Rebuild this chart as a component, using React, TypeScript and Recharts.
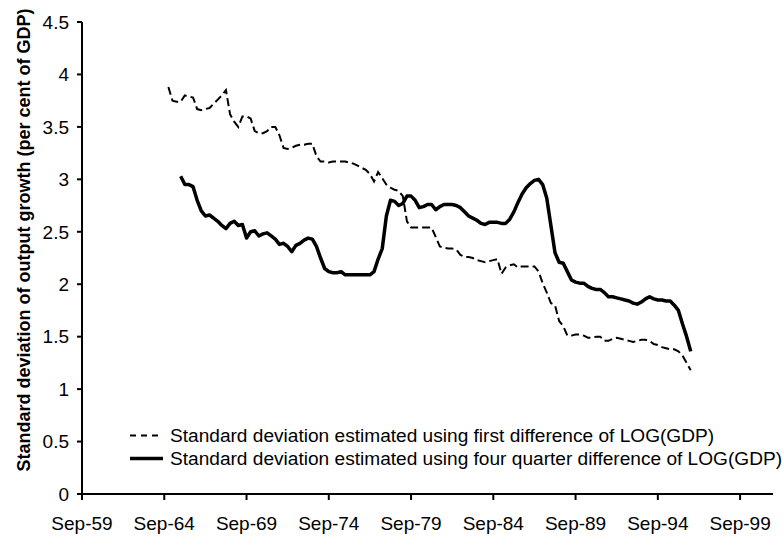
import { LineChart, Line, XAxis, YAxis, Legend } from "recharts";

const FONT = "'Liberation Sans', Arial, sans-serif";

// x axis: quarter index counted from Sep-59 (= 0), one tick every 5 years
const tickLabels = ["Sep-59", "Sep-64", "Sep-69", "Sep-74", "Sep-79", "Sep-84", "Sep-89", "Sep-94", "Sep-99"];
const xTicks = [0, 20, 40, 60, 80, 100, 120, 140, 160];
const yTicks = [0, 0.5, 1, 1.5, 2, 2.5, 3, 3.5, 4, 4.5];

const seriesNames = [
  "Standard deviation estimated using first difference of LOG(GDP)",
  "Standard deviation estimated using four quarter difference of LOG(GDP)",
];

// first difference series starts Dec-64 (index 21)
const firstStart = 21;
const firstDiff = [
  3.88, 3.75, 3.74, 3.74, 3.8, 3.79, 3.78, 3.67, 3.66, 3.67,
  3.68, 3.72, 3.76, 3.8, 3.85, 3.62, 3.55, 3.5, 3.6, 3.6,
  3.58, 3.46, 3.44, 3.44, 3.46, 3.5, 3.5, 3.42, 3.3, 3.29,
  3.3, 3.32, 3.33, 3.33, 3.34, 3.34, 3.22, 3.17, 3.17, 3.16,
  3.17, 3.17, 3.17, 3.17, 3.16, 3.15, 3.13, 3.11, 3.09, 3.05,
  2.98, 3.07, 3.01, 2.95, 2.92, 2.9, 2.89, 2.84, 2.6, 2.54,
  2.54, 2.54, 2.54, 2.54, 2.54, 2.45, 2.36, 2.35, 2.34, 2.34,
  2.33, 2.28, 2.26, 2.26, 2.25, 2.23, 2.22, 2.21, 2.22, 2.23,
  2.24, 2.1, 2.16, 2.18, 2.19, 2.16, 2.17, 2.17, 2.17, 2.17,
  2.12, 2.01, 1.92, 1.82, 1.8, 1.65, 1.6, 1.51, 1.51, 1.52,
  1.52, 1.51, 1.49, 1.49, 1.5, 1.5, 1.46, 1.46, 1.48, 1.49,
  1.48, 1.47, 1.46, 1.45, 1.46, 1.47, 1.47, 1.46, 1.43, 1.42,
  1.4, 1.39, 1.38, 1.38, 1.36, 1.32, 1.25, 1.18,
];

// four quarter difference series starts Sep-65 (index 24)
const fourStart = 24;
const fourQuarterDiff = [
  3.03, 2.95, 2.95, 2.93, 2.8, 2.7, 2.65,
  2.66, 2.63, 2.6, 2.56, 2.53, 2.58, 2.6, 2.56, 2.57, 2.44,
  2.5, 2.51, 2.46, 2.48, 2.49, 2.46, 2.43, 2.38, 2.39, 2.36,
  2.31, 2.37, 2.39, 2.42, 2.44, 2.43, 2.36, 2.25, 2.15, 2.12,
  2.11, 2.11, 2.12, 2.09, 2.09, 2.09, 2.09, 2.09, 2.09, 2.09,
  2.12, 2.24, 2.34, 2.65, 2.8, 2.79, 2.75, 2.77, 2.84, 2.84,
  2.8, 2.73, 2.74, 2.76, 2.76, 2.71, 2.74, 2.76, 2.76, 2.76,
  2.75, 2.73, 2.69, 2.65, 2.63, 2.61, 2.58, 2.57, 2.59, 2.59,
  2.59, 2.58, 2.58, 2.62, 2.69, 2.78, 2.86, 2.92, 2.96, 2.99,
  3.0, 2.95, 2.82, 2.56, 2.3, 2.21, 2.2, 2.12, 2.04, 2.02,
  2.01, 2.01, 1.98, 1.96, 1.95, 1.95, 1.92, 1.88, 1.88, 1.87,
  1.86, 1.85, 1.84, 1.82, 1.81, 1.83, 1.86, 1.88, 1.86, 1.85,
  1.85, 1.84, 1.84, 1.8, 1.75, 1.62, 1.5, 1.36,
];

const data = firstDiff.map((v, i) => {
  const q = firstStart + i;
  const j = q - fourStart;
  return {
    q,
    first: v,
    four: j >= 0 ? fourQuarterDiff[j] : null,
  };
});

function renderLegend() {
  return (
    <div
      style={{
        fontFamily: FONT,
        fontSize: 19.1,
        color: "#000",
        lineHeight: "23px",
        whiteSpace: "nowrap",
      }}
    >
      <div style={{ display: "flex", alignItems: "center" }}>
        <svg width={42} height={23}>
          <line x1={2} x2={35} y1={11.5} y2={11.5} stroke="#000" strokeWidth={2} strokeDasharray="6 5" />
        </svg>
        <span>{seriesNames[0]}</span>
      </div>
      <div style={{ display: "flex", alignItems: "center" }}>
        <svg width={42} height={23}>
          <line x1={2} x2={35} y1={11.5} y2={11.5} stroke="#000" strokeWidth={3.5} />
        </svg>
        <span>{seriesNames[1]}</span>
      </div>
    </div>
  );
}

function renderYLabel() {
  return (
    <text
      x={24}
      y={240}
      transform="rotate(-90, 24, 240)"
      textAnchor="middle"
      dominantBaseline="central"
      fontFamily={FONT}
      fontSize={18}
      fontWeight="bold"
      fill="#000"
    >
      Standard deviation of output growth (per cent of GDP)
    </text>
  );
}

export default function App() {
  return (
    <div style={{ position: "absolute", left: 0, top: 0, background: "#fff" }}>
      <LineChart
        width={784}
        height={538}
        data={data}
        margin={{ top: 22, right: 11, left: 0, bottom: 0 }}
      >
        <XAxis
          dataKey="q"
          type="number"
          domain={[0, 168]}
          ticks={xTicks}
          interval={0}
          tickFormatter={(v: number) => tickLabels[v / 20]}
          height={44}
          tickSize={6}
          tickMargin={17}
          axisLine={{ stroke: "#000", strokeWidth: 2 }}
          tickLine={{ stroke: "#000", strokeWidth: 2 }}
          tick={{ fill: "#000", fontSize: 19, fontFamily: FONT }}
        />
        <YAxis
          domain={[0, 4.5]}
          ticks={yTicks}
          interval={0}
          width={82}
          tickSize={5}
          tickMargin={8}
          axisLine={{ stroke: "#000", strokeWidth: 2 }}
          tickLine={{ stroke: "#000", strokeWidth: 2 }}
          tick={{ fill: "#000", fontSize: 19, fontFamily: FONT }}
          label={renderYLabel}
        />
        <Legend
          verticalAlign="middle"
          align="center"
          layout="vertical"
          content={renderLegend}
          wrapperStyle={{ left: 128, top: 424, width: "auto" }}
        />
        <Line
          type="linear"
          dataKey="first"
          name={seriesNames[0]}
          stroke="#000"
          strokeWidth={2}
          strokeDasharray="8 4"
          dot={false}
          isAnimationActive={false}
        />
        <Line
          type="linear"
          dataKey="four"
          name={seriesNames[1]}
          stroke="#000"
          strokeWidth={3.5}
          strokeLinejoin="round"
          dot={false}
          connectNulls={false}
          isAnimationActive={false}
        />
      </LineChart>
    </div>
  );
}
